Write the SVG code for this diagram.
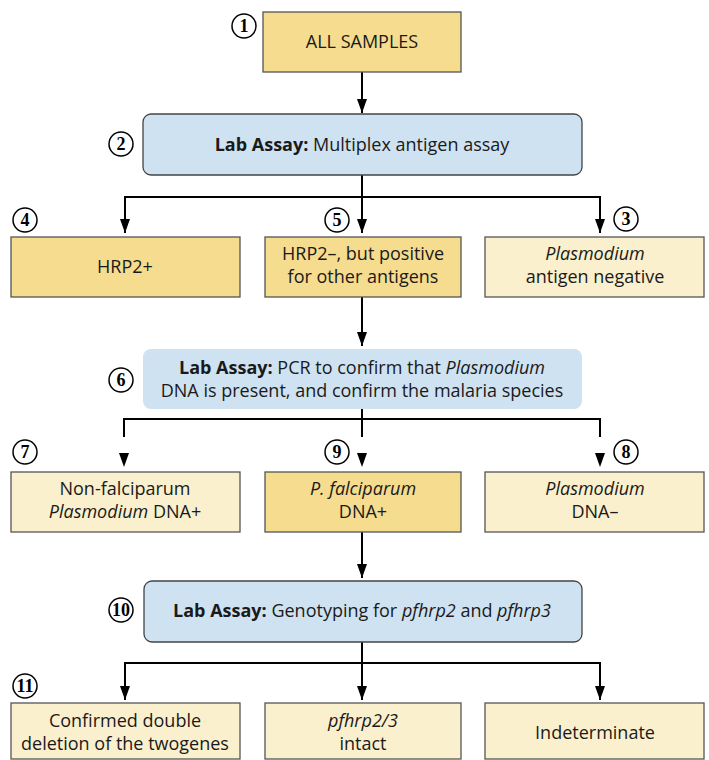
<svg xmlns="http://www.w3.org/2000/svg" width="709" height="760" viewBox="0 0 709 760">
<defs>
<marker id="ah" markerWidth="14" markerHeight="10" refX="14" refY="5" orient="auto" markerUnits="userSpaceOnUse" viewBox="0 0 14 10">
<path d="M0,0 L14,5 L0,10 Z" fill="#000"/>
</marker>
<style>
.gold{fill:#F5DC8E;stroke:#555;stroke-width:1.3}
.cream{fill:#FAF0CD;stroke:#555;stroke-width:1.3}
.blue{fill:#CFE2F1;stroke:#444;stroke-width:1.3}
.blue2{fill:#CFE2F1;stroke:none}
.t{font-family:"Open Sans","Liberation Sans",sans-serif;font-size:18px;fill:#1a1a1a;text-anchor:middle}
.b{font-weight:bold}
.i{font-style:italic}
.ln{fill:none;stroke:#000;stroke-width:2}
.arr{fill:none;stroke:#000;stroke-width:2;marker-end:url(#ah)}
.num circle{fill:#fff;stroke:#000;stroke-width:1.5}
.num text{font-family:"Liberation Serif",serif;font-weight:bold;font-size:18px;text-anchor:middle;fill:#000}
</style>
</defs>
<rect width="709" height="760" fill="#fff"/>

<g id="connectors">
<line class="arr" x1="362" y1="72" x2="362" y2="113"/>
<polyline class="ln" points="362,175 362,197"/>
<polyline class="ln" points="124,197 601,197"/>
<line class="arr" x1="125" y1="196" x2="125" y2="233"/>
<line class="arr" x1="362" y1="196" x2="362" y2="233"/>
<line class="arr" x1="600" y1="196" x2="600" y2="233"/>
<line class="arr" x1="362" y1="297" x2="362" y2="346"/>
<polyline class="ln" points="362,409 362,419"/>
<polyline class="ln" points="124,437 124,419 600,419 600,437"/>
<line class="ln" x1="362" y1="419" x2="362" y2="437"/>
<path d="M119,453 L129,453 L124,467 Z" fill="#000"/>
<path d="M357,453 L367,453 L362,467 Z" fill="#000"/>
<path d="M595,453 L605,453 L600,467 Z" fill="#000"/>
<line class="arr" x1="362" y1="532" x2="362" y2="578"/>
<polyline class="ln" points="362,642 362,663"/>
<polyline class="ln" points="124,663 601,663"/>
<line class="arr" x1="125" y1="662" x2="125" y2="700"/>
<line class="arr" x1="362" y1="662" x2="362" y2="700"/>
<line class="arr" x1="600" y1="662" x2="600" y2="700"/>
</g>

<g id="n1">
<rect class="gold" x="263" y="12" width="198" height="60"/>
<text class="t" x="362" y="48">ALL SAMPLES</text>
<g class="num"><circle cx="244" cy="26" r="12"/><text x="244" y="32">1</text></g>
</g>

<g id="n2">
<rect class="blue" x="143" y="114" width="439" height="61" rx="8"/>
<text class="t" x="362" y="151"><tspan class="b">Lab Assay:</tspan> Multiplex antigen assay</text>
<g class="num"><circle cx="121" cy="144" r="12"/><text x="121" y="150">2</text></g>
</g>

<g id="n4">
<rect class="gold" x="11" y="237" width="229" height="60"/>
<text class="t" x="125" y="273">HRP2+</text>
<g class="num"><circle cx="25" cy="220" r="12"/><text x="25" y="226">4</text></g>
</g>

<g id="n5">
<rect class="gold" x="265" y="237" width="196" height="60"/>
<text class="t" x="363" y="260">HRP2–, but positive</text>
<text class="t" x="363" y="283">for other antigens</text>
<g class="num"><circle cx="337" cy="220" r="12"/><text x="337" y="226">5</text></g>
</g>

<g id="n3">
<rect class="cream" x="485" y="237" width="219" height="60"/>
<text class="t i" x="595" y="260">Plasmodium</text>
<text class="t" x="595" y="283">antigen negative</text>
<g class="num"><circle cx="626" cy="219" r="12"/><text x="626" y="225">3</text></g>
</g>

<g id="n6">
<rect class="blue2" x="143" y="349" width="439" height="60" rx="8"/>
<text class="t" x="362" y="374"><tspan class="b">Lab Assay:</tspan> PCR to confirm that <tspan class="i">Plasmodium</tspan></text>
<text class="t" x="362" y="397">DNA is present, and confirm the malaria species</text>
<g class="num"><circle cx="121" cy="380" r="12"/><text x="121" y="386">6</text></g>
</g>

<g id="n7">
<rect class="cream" x="11" y="472" width="229" height="60"/>
<text class="t" x="125" y="495">Non-falciparum</text>
<text class="t" x="125" y="518"><tspan class="i">Plasmodium</tspan> DNA+</text>
<g class="num"><circle cx="25" cy="452" r="12"/><text x="25" y="458">7</text></g>
</g>

<g id="n9">
<rect class="gold" x="265" y="472" width="196" height="60"/>
<text class="t" x="363" y="495"><tspan class="i">P. falciparum</tspan></text>
<text class="t" x="363" y="518">DNA+</text>
<g class="num"><circle cx="337" cy="452" r="12"/><text x="337" y="458">9</text></g>
</g>

<g id="n8">
<rect class="cream" x="485" y="472" width="219" height="60"/>
<text class="t i" x="595" y="495">Plasmodium</text>
<text class="t" x="595" y="518">DNA–</text>
<g class="num"><circle cx="626" cy="452" r="12"/><text x="626" y="458">8</text></g>
</g>

<g id="n10">
<rect class="blue" x="144" y="581" width="438" height="61" rx="8"/>
<text class="t" x="362" y="617"><tspan class="b">Lab Assay:</tspan> Genotyping for <tspan class="i">pfhrp2</tspan> and <tspan class="i">pfhrp3</tspan></text>
<g class="num"><circle cx="121" cy="610" r="12"/><text x="121" y="616">10</text></g>
</g>

<g id="n11">
<rect class="cream" x="11" y="703" width="229" height="56"/>
<text class="t" x="125" y="727">Confirmed double</text>
<text class="t" x="125" y="750">deletion of the twogenes</text>
<g class="num"><circle cx="25" cy="686" r="12"/><text x="25" y="692">11</text></g>
</g>

<g id="n12">
<rect class="cream" x="265" y="703" width="196" height="56"/>
<text class="t i" x="363" y="727">pfhrp2/3</text>
<text class="t" x="363" y="750">intact</text>
</g>

<g id="n13">
<rect class="cream" x="485" y="703" width="219" height="56"/>
<text class="t" x="595" y="739">Indeterminate</text>
</g>
</svg>
